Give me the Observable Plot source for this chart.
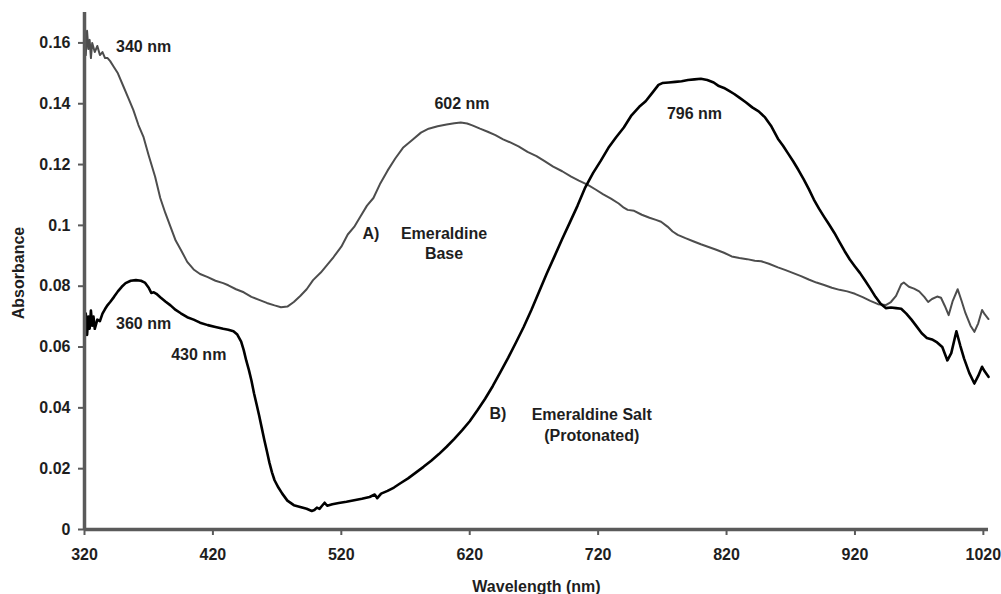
<!DOCTYPE html>
<html>
<head>
<meta charset="utf-8">
<script src="https://cdn.jsdelivr.net/npm/d3@7"></script>
<script src="https://cdn.jsdelivr.net/npm/@observablehq/plot@0.6"></script>
<style>
  html, body { margin: 0; padding: 0; background: #fff; }
  #chart { width: 1001px; height: 594px; }
</style>
</head>
<body>
<div id="chart"></div>
<script>
// ---- Data ----
// A) Emeraldine Base (grey)
const wlA = [320,321,322,323,324,325,326,328,330,332,334,336,338,340,343,346,350,354,358,362,366,370,375,379,383,387,391,395,400,405,410,416,422,428,432,438,444,450,456,462,468,473,478,483,488,493,498,504,509,514,520,525,530,535,540,545,550,556,562,568,575,582,588,595,602,608,613,618,622,628,634,640,646,652,658,665,672,678,685,692,699,705,712,718,724,730,736,740,743,748,754,760,765,769,774,778,782,788,794,800,806,812,818,824,830,836,842,847,853,860,866,872,878,884,890,896,902,908,914,920,926,932,938,944,948,952,956,958,962,966,970,974,977,980,984,987,990,993,996,1000,1003,1006,1010,1013,1016,1019,1021,1024];
const absA = [0.162,0.156,0.164,0.158,0.161,0.155,0.160,0.157,0.159,0.156,0.157,0.155,0.155,0.154,0.152,0.150,0.146,0.142,0.138,0.133,0.129,0.123,0.116,0.109,0.104,0.0995,0.095,0.092,0.088,0.0855,0.084,0.083,0.0818,0.081,0.0803,0.079,0.078,0.0765,0.0755,0.0745,0.0737,0.0731,0.0733,0.0748,0.0768,0.079,0.082,0.0845,0.087,0.0896,0.093,0.097,0.0995,0.103,0.1065,0.109,0.1135,0.118,0.122,0.1255,0.128,0.1305,0.1318,0.1326,0.1332,0.1336,0.1338,0.1335,0.1329,0.1318,0.1308,0.1297,0.1283,0.1272,0.126,0.1242,0.1228,0.1212,0.1193,0.1178,0.116,0.1147,0.1133,0.1118,0.1102,0.1088,0.1072,0.1058,0.1051,0.1048,0.1035,0.1025,0.1018,0.1012,0.0996,0.098,0.0969,0.0958,0.0948,0.0938,0.0929,0.092,0.091,0.0898,0.0893,0.0889,0.0884,0.0882,0.0874,0.0862,0.0853,0.0843,0.0833,0.0822,0.0812,0.0804,0.0795,0.0788,0.0783,0.0775,0.0764,0.0752,0.0741,0.0738,0.0748,0.0768,0.0806,0.0812,0.0798,0.0792,0.0783,0.0765,0.0748,0.0758,0.0766,0.0762,0.0735,0.0705,0.075,0.079,0.0752,0.0712,0.067,0.065,0.0678,0.0722,0.0708,0.0692];

// B) Emeraldine Salt (Protonated) (black)
const wlB = [320,321,322,323,324,325,326,327,328,330,332,334,336,338,340,343,346,349,352,356,360,364,367,370,372,374,376,379,383,387,391,395,400,405,410,416,422,428,432,436,439,442,444,446,448,450,452,454,456,458,460,462,464,466,468,471,474,478,483,488,493,497,499,501,503,505,507,509,513,518,524,530,536,542,546,548,551,556,561,566,572,578,584,590,596,602,608,614,620,626,632,638,644,650,656,662,668,674,680,686,692,698,704,710,716,722,728,734,740,746,752,757,762,767,770,775,780,785,790,795,800,805,810,814,818,822,826,830,835,840,845,850,855,860,864,868,872,876,880,884,888,892,896,900,904,908,912,916,920,924,928,932,936,940,944,948,952,956,960,964,968,972,976,980,984,988,992,995,999,1002,1005,1009,1013,1016,1019,1021,1024];
const absB = [0.067,0.071,0.064,0.070,0.066,0.072,0.067,0.070,0.066,0.069,0.0685,0.071,0.0725,0.0738,0.0748,0.0765,0.0783,0.0798,0.081,0.0818,0.082,0.0818,0.0812,0.0795,0.0778,0.078,0.0775,0.0764,0.075,0.0737,0.0722,0.0711,0.0698,0.069,0.068,0.0672,0.0666,0.066,0.0657,0.0652,0.0641,0.0618,0.059,0.0555,0.0525,0.049,0.0448,0.0412,0.0375,0.0335,0.0295,0.0258,0.022,0.0188,0.0162,0.0138,0.0118,0.0095,0.008,0.0074,0.0068,0.0061,0.0064,0.0072,0.0068,0.0078,0.0088,0.0078,0.0083,0.0087,0.0091,0.0096,0.0101,0.0107,0.0115,0.0103,0.0118,0.0127,0.0138,0.0152,0.0168,0.0187,0.0206,0.0226,0.0248,0.0272,0.0298,0.0326,0.0356,0.0392,0.043,0.0472,0.0518,0.0565,0.0615,0.0666,0.0722,0.0782,0.0842,0.0898,0.0955,0.101,0.1065,0.1125,0.1172,0.1212,0.1255,0.129,0.1322,0.1362,0.139,0.1408,0.1435,0.1462,0.1468,0.147,0.1472,0.1474,0.1478,0.148,0.1482,0.1478,0.147,0.1458,0.1452,0.1442,0.1432,0.142,0.1405,0.1388,0.1375,0.1355,0.1325,0.1285,0.1262,0.1236,0.121,0.1182,0.1152,0.112,0.1085,0.1055,0.1028,0.1002,0.0975,0.0945,0.0915,0.0888,0.0865,0.0843,0.0818,0.0792,0.0765,0.0742,0.0728,0.073,0.0728,0.0726,0.071,0.069,0.0668,0.0645,0.063,0.0625,0.0615,0.06,0.0556,0.058,0.0652,0.0605,0.0562,0.0515,0.048,0.0505,0.0535,0.052,0.0502];

// Axis ticks
const xTicks = [320, 420, 520, 620, 720, 820, 920, 1020];
const yTicks = [0, 0.02, 0.04, 0.06, 0.08, 0.1, 0.12, 0.14, 0.16];
const yTickLabels = ["0", "0.02", "0.04", "0.06", "0.08", "0.1", "0.12", "0.14", "0.16"];

// Annotations (anchored in data coordinates)
const annText = ["340 nm", "360 nm", "430 nm", "602 nm", "796 nm", "A)", "Emeraldine\nBase", "B)", "Emeraldine Salt\n(Protonated)"];
const annX    = [366, 366, 409, 614, 795, 543, 600, 642, 715];
const annY    = [0.1592, 0.0681, 0.0579, 0.1404, 0.1371, 0.0977, 0.0944, 0.0385, 0.0347];

// ---- Build ----
const seriesA = wlA.map((w, i) => ({wl: w, abs: absA[i]}));
const seriesB = wlB.map((w, i) => ({wl: w, abs: absB[i]}));
const annotations = annText.map((t, i) => ({text: t, wl: annX[i], abs: annY[i]}));

const axisColor = "#5a5a5a";
const textColor = "#1e1e1e";

const chart = Plot.plot({
  width: 1001,
  height: 594,
  marginLeft: 84,
  marginRight: 13,
  marginTop: 12,
  marginBottom: 65,
  style: {
    fontFamily: "'Liberation Sans', Arial, sans-serif",
    fontSize: "16px",
    fontWeight: "bold",
    color: textColor,
    background: "#fff"
  },
  x: {domain: [320, 1024]},
  y: {domain: [0, 0.17]},
  marks: [
    Plot.axisX({ticks: xTicks, tickSize: 6, tickPadding: 13, tickFormat: d => String(d),
      stroke: axisColor, strokeWidth: 2, label: null, fill: textColor}),
    Plot.axisY({ticks: yTicks, tickSize: 6, tickPadding: 8,
      tickFormat: d => yTickLabels[yTicks.indexOf(d)] ?? String(d),
      stroke: axisColor, strokeWidth: 2, label: null, fill: textColor}),
    Plot.line(seriesA, {x: "wl", y: "abs", stroke: "#4d4d4d", strokeWidth: 2, strokeLinejoin: "round"}),
    Plot.line(seriesB, {x: "wl", y: "abs", stroke: "#000", strokeWidth: 2.6, strokeLinejoin: "round"}),
    Plot.ruleX([320], {stroke: axisColor, strokeWidth: 3.5}),
    Plot.ruleY([0], {stroke: axisColor, strokeWidth: 3.5}),
    Plot.text(annotations, {x: "wl", y: "abs", text: "text", fill: textColor, fontSize: 16, fontWeight: "bold", textAnchor: "middle", lineAnchor: "middle", lineHeight: 1.3}),
    Plot.text(["Absorbance"], {frameAnchor: "left", dx: -66, dy: 2, rotate: -90, textAnchor: "middle", lineAnchor: "middle", fill: textColor, fontSize: 16, fontWeight: "bold"}),
    Plot.text(["Wavelength (nm)"], {frameAnchor: "bottom", dy: 57, textAnchor: "middle", lineAnchor: "middle", fill: textColor, fontSize: 16, fontWeight: "bold"})
  ]
});

document.getElementById("chart").appendChild(chart);
</script>
</body>
</html>
